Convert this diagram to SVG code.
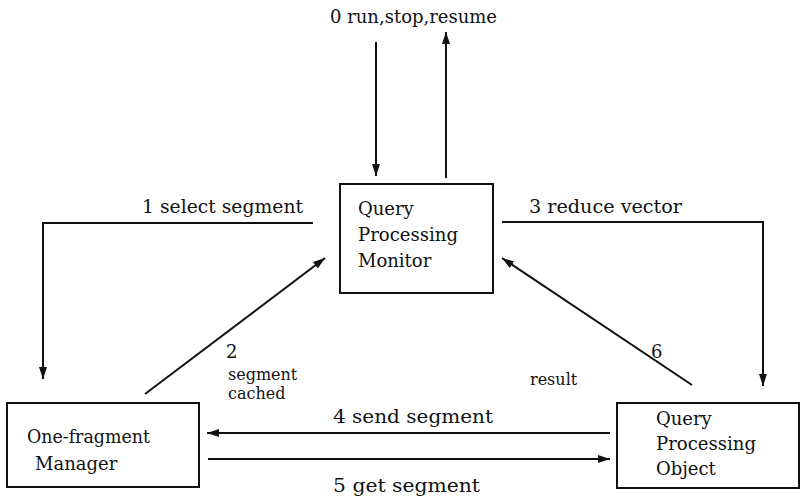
<svg xmlns="http://www.w3.org/2000/svg" width="803" height="499" viewBox="0 0 803 499">
<style>
text{font-family:"DejaVu Serif",serif;font-size:18px;fill:#111}
.box{fill:none;stroke:#111;stroke-width:2}
.ln{fill:none;stroke:#111;stroke-width:2}
.sm{font-size:16px}
</style>
<defs>
<marker id="ah" viewBox="0 0 12 8" refX="12" refY="4" markerWidth="12" markerHeight="8" markerUnits="userSpaceOnUse" orient="auto">
<path d="M0,0 L12,4 L0,8 Z" fill="#111"/>
</marker>
</defs>
<rect width="803" height="499" fill="#fff"/>
<g id="monitor">
<rect class="box" x="340" y="184" width="153" height="109"/>
<text x="358" y="215">Query</text>
<text x="358" y="241" textLength="100" lengthAdjust="spacingAndGlyphs">Processing</text>
<text x="358" y="267">Monitor</text>
</g>
<g id="fragment-manager">
<rect class="box" x="7" y="403" width="192" height="84"/>
<text x="27" y="443" textLength="123" lengthAdjust="spacingAndGlyphs">One-fragment</text>
<text x="35" y="470">Manager</text>
</g>
<g id="processing-object">
<rect class="box" x="617" y="403" width="182" height="85"/>
<text x="656" y="425">Query</text>
<text x="656" y="450" textLength="100" lengthAdjust="spacingAndGlyphs">Processing</text>
<text x="656" y="475">Object</text>
</g>
<g id="connectors">
<line class="ln" x1="376" y1="42" x2="376" y2="176" marker-end="url(#ah)"/>
<line class="ln" x1="446" y1="178" x2="446" y2="32" marker-end="url(#ah)"/>
<polyline class="ln" points="313,223 43,223 43,379" marker-end="url(#ah)"/>
<polyline class="ln" points="502,222 763,222 763,386" marker-end="url(#ah)"/>
<line class="ln" x1="145" y1="394" x2="325" y2="258" marker-end="url(#ah)"/>
<line class="ln" x1="692" y1="385" x2="502" y2="258" marker-end="url(#ah)"/>
<line class="ln" x1="610" y1="433" x2="207" y2="433" marker-end="url(#ah)"/>
<line class="ln" x1="208" y1="459" x2="610" y2="459" marker-end="url(#ah)"/>
</g>
<g id="labels">
<text x="330" y="23" textLength="167" lengthAdjust="spacingAndGlyphs">0 run,stop,resume</text>
<text x="142" y="213" textLength="161" lengthAdjust="spacingAndGlyphs">1  select segment</text>
<text x="529" y="213" textLength="153" lengthAdjust="spacingAndGlyphs">3  reduce vector</text>
<text x="226" y="358">2</text>
<text class="sm" x="228" y="380">segment</text>
<text class="sm" x="228" y="399">cached</text>
<text class="sm" x="530" y="385">result</text>
<text x="651" y="358">6</text>
<text x="333" y="423" textLength="160" lengthAdjust="spacingAndGlyphs">4   send segment</text>
<text x="333" y="492" textLength="147" lengthAdjust="spacingAndGlyphs">5   get segment</text>
</g>
</svg>
